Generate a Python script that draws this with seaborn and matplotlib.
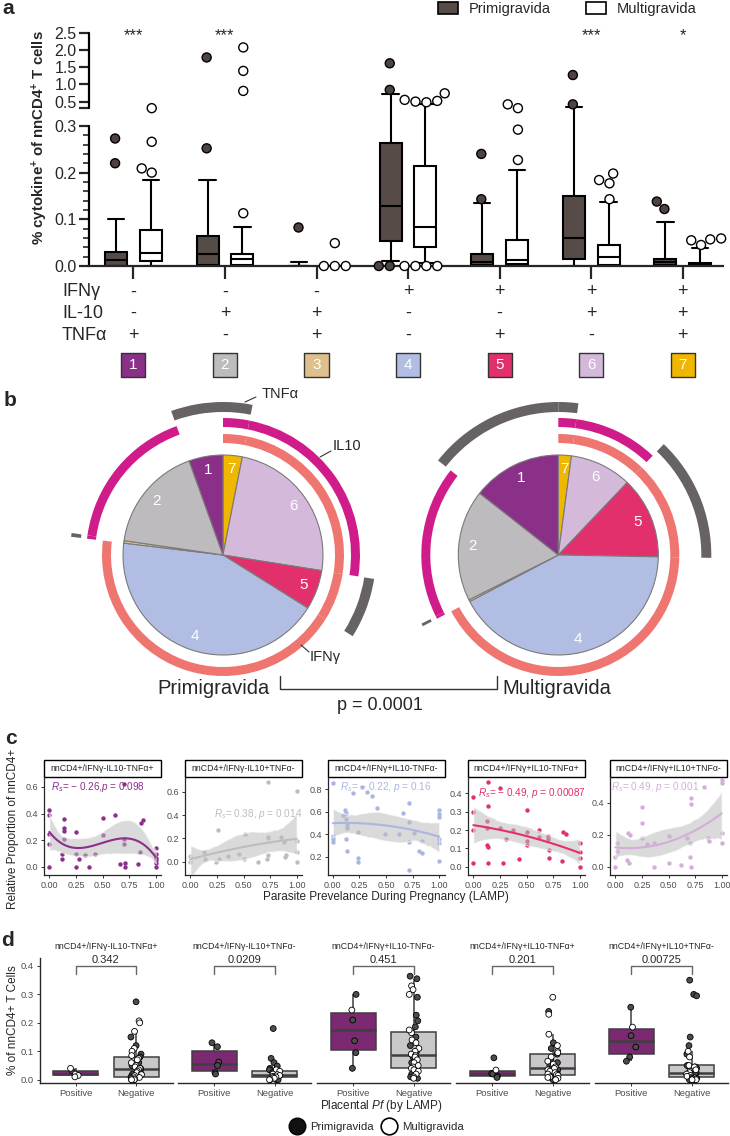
import numpy as np
import pandas as pd
import matplotlib
matplotlib.use("Agg")
import matplotlib.pyplot as plt
import matplotlib.transforms as mtransforms
from matplotlib.patches import Wedge, Patch, Rectangle
from matplotlib.lines import Line2D
from matplotlib.collections import PolyCollection
import seaborn as sns

W, H = 730, 1136

# ---------------- panel a: cytokine subsets (box summaries)
CATS = ["1", "2", "3", "4", "5", "6", "7"]
IFNG = ["-", "-", "-", "+", "+", "+", "+"]
IL10 = ["-", "+", "+", "-", "-", "+", "+"]
TNFA = ["+", "-", "+", "-", "+", "-", "+"]
CAT_COLORS = ["#8A3088", "#BDBBBD", "#DFC08D", "#B1BDE2", "#E2306C", "#D5B9DA", "#EFB700"]
SIG = ["***", "***", "", "", "", "***", "*"]

PRIMI_Q1 = [0.0, 0.002, 0.0, 0.054, 0.002, 0.014, 0.002]
PRIMI_MED = [0.013, 0.026, 0.0, 0.128, 0.009, 0.059, 0.009]
PRIMI_Q3 = [0.031, 0.064, 0.0, 0.264, 0.026, 0.150, 0.014]
PRIMI_LO = [0.0, 0.0, 0.0, 0.011, 0.0, 0.0, 0.0]
PRIMI_HI = [0.100, 0.184, 0.009, 0.714, 0.134, 0.33, 0.095]
PRIMI_OUT = [[0.22, 0.273], [0.252, 1.78], [0.084], [0.0, 0.0, 0.84, 1.61],
             [0.143, 0.24], [0.42, 1.27], [0.122, 0.138]]

MULTI_Q1 = [0.011, 0.002, 0.0, 0.041, 0.004, 0.002, 0.0]
MULTI_MED = [0.027, 0.014, 0.0, 0.084, 0.013, 0.020, 0.002]
MULTI_Q3 = [0.077, 0.026, 0.0, 0.214, 0.056, 0.045, 0.006]
MULTI_LO = [0.0, 0.0, 0.0, 0.006, 0.0, 0.0, 0.0]
MULTI_HI = [0.184, 0.084, 0.0, 0.425, 0.206, 0.136, 0.038]
MULTI_OUT = [[0.2, 0.209, 0.266, 0.31], [0.113, 0.81, 1.39, 2.07], [0.0, 0.0, 0.0, 0.049],
             [0.0, 0.0, 0.0, 0.0, 0.48, 0.5, 0.52, 0.55, 0.74], [0.227, 0.292, 0.31, 0.42],
             [0.143, 0.177, 0.184, 0.198], [0.045, 0.055, 0.057, 0.059]]

# ---------------- panel b: share of each subset (%), category order 1..7
PRIMI_FRAC = [5.5, 17.2, 0.4, 43.0, 6.4, 24.4, 3.1]
MULTI_FRAC = [14.4, 18.0, 0.3, 42.0, 13.2, 10.0, 2.1]

# ---------------- panel c: relative proportion vs parasite prevalence
C_TITLES = ["nnCD4+/IFNγ-IL10-TNFα+", "nnCD4+/IFNγ-IL10+TNFα-", "nnCD4+/IFNγ+IL10-TNFα-",
            "nnCD4+/IFNγ+IL10-TNFα+", "nnCD4+/IFNγ+IL10+TNFα-"]
C_COLORS = ["#8B2F8B", "#BDBDBD", "#A9B6E1", "#E2306B", "#D4ADD8"]
C_STATS = [r"$R_s$= − 0.26,$p$ = 0.098", r"$R_s$= 0.38, $p$ = 0.014", r"$R_s$= − 0.22, $p$ = 0.16",
           r"$R_s$= − 0.49, $p$ = 0.00087", r"$R_s$= 0.49, $p$ = 0.001"]

C1_X = [0.00, 0.00, 0.00, 0.00, 0.00, 0.14, 0.14, 0.14, 0.14, 0.12, 0.12, 0.25, 0.25, 0.25, 0.28,
        0.34, 0.37, 0.43, 0.50, 0.50, 0.62, 0.66, 0.70, 0.70, 0.70, 0.71, 0.71, 0.83, 0.85, 0.86,
        0.88, 1.00, 1.00, 1.00, 1.00, 1.00, 1.00]
C1_Y = [0.43, 0.39, 0.25, 0.17, 0.00, 0.36, 0.29, 0.27, 0.21, 0.10, 0.06, 0.26, 0.10, 0.00, 0.06,
        0.09, 0.00, 0.10, 0.37, 0.24, 0.39, 0.02, 0.62, 0.21, 0.17, 0.03, 0.00, 0.02, 0.11, 0.33,
        0.35, 0.14, 0.10, 0.07, 0.05, 0.03, 0.00]
C2_X = [0.00, 0.00, 0.13, 0.14, 0.24, 0.26, 0.27, 0.35, 0.46, 0.50, 0.51, 0.64, 0.72, 0.73, 0.73,
        0.73, 0.73, 0.85, 0.88, 0.89, 0.90, 1.00, 1.00, 1.00, 1.00]
C2_Y = [0.05, 0.00, 0.08, 0.02, 0.00, 0.27, 0.02, 0.05, 0.07, 0.02, 0.24, 0.00, 0.02, 0.68, 0.21,
        0.20, 0.06, 0.21, 0.17, 0.04, 0.06, 0.61, 0.18, 0.08, 0.00]
C3_X = [0.00, 0.00, 0.00, 0.00, 0.10, 0.11, 0.12, 0.12, 0.13, 0.13, 0.12, 0.13, 0.19, 0.24, 0.24,
        0.24, 0.27, 0.32, 0.37, 0.42, 0.49, 0.62, 0.66, 0.72, 0.72, 0.72, 0.72, 0.76, 0.81, 0.84,
        0.84, 1.00, 1.00, 1.00, 1.00, 1.00, 1.00]
C3_Y = [0.86, 0.38, 0.36, 0.33, 0.57, 0.62, 0.59, 0.54, 0.48, 0.46, 0.36, 0.25, 0.77, 0.42, 0.19,
        0.15, 0.82, 0.78, 0.74, 0.63, 0.40, 0.40, 0.59, 0.68, 0.51, 0.33, 0.08, 0.41, 0.25, 0.34,
        0.23, 0.62, 0.58, 0.55, 0.36, 0.32, 0.16]
C4_X = [0.00, 0.14, 0.25, 0.14, 0.50, 0.00, 0.13, 0.00, 0.13, 0.25, 0.37, 0.50, 0.62, 0.70, 0.70,
        0.84, 0.87, 1.00, 0.50, 0.62, 0.31, 0.14, 0.13, 0.50, 0.00, 0.14, 0.28, 0.43, 0.71, 0.71,
        0.83, 1.00, 1.00, 1.00]
C4_Y = [0.38, 0.46, 0.43, 0.33, 0.31, 0.30, 0.25, 0.20, 0.21, 0.21, 0.20, 0.19, 0.20, 0.17, 0.15,
        0.19, 0.18, 0.13, 0.14, 0.16, 0.15, 0.11, 0.12, 0.12, 0.02, 0.02, 0.02, 0.04, 0.09, 0.05,
        0.03, 0.08, 0.05, 0.00]
C5_X = [1.00, 1.00, 0.83, 0.71, 0.71, 0.25, 0.25, 0.14, 0.12, 0.02, 0.25, 0.36, 0.50, 0.67, 0.87,
        1.00, 1.00, 0.88, 0.70, 0.30, 0.00, 0.00, 0.11, 0.13, 0.36, 0.50, 0.62, 0.71, 0.70, 0.02]
C5_Y = [0.54, 0.52, 0.50, 0.43, 0.39, 0.37, 0.27, 0.20, 0.21, 0.15, 0.18, 0.15, 0.19, 0.18, 0.18,
        0.21, 0.15, 0.16, 0.15, 0.14, 0.06, 0.00, 0.04, 0.02, 0.00, 0.02, 0.01, 0.00, 0.06, 0.10]
C_X = [C1_X, C2_X, C3_X, C4_X, C5_X]
C_Y = [C1_Y, C2_Y, C3_Y, C4_Y, C5_Y]

# ---------------- panel d: % of nnCD4+ by placental Pf
PVALS = ["0.342", "0.0209", "0.451", "0.201", "0.00725"]
POS_PRIMI = [[0.03],
             [0.13, 0.116, 0.062, 0.05, 0.025, 0.02],
             [0.3, 0.21, 0.137, 0.095, 0.04],
             [0.077, 0.022, 0.02, 0.013, 0.008],
             [0.255, 0.155, 0.115, 0.08, 0.065]]
POS_MULTI = [[0.04, 0.02, 0.015, 0.01],
             [],
             [0.245],
             [0.034],
             [0.185]]
NEG_PRIMI = [[0.274, 0.15, 0.12, 0.09, 0.08, 0.06, 0.05, 0.04, 0.03, 0.02, 0.015, 0.01, 0.005, 0.0, 0.0],
             [0.18, 0.075, 0.06, 0.048, 0.04, 0.035, 0.03, 0.025, 0.02, 0.018, 0.015, 0.012, 0.01,
              0.008, 0.005, 0.0, 0.0],
             [0.364, 0.355, 0.29, 0.227, 0.207, 0.186, 0.15, 0.12, 0.1, 0.09, 0.08, 0.06, 0.05, 0.04,
              0.03, 0.02, 0.01, 0.005],
             [0.24, 0.13, 0.11, 0.09, 0.07, 0.06, 0.05, 0.04, 0.035, 0.03, 0.02, 0.015, 0.01, 0.005, 0.0],
             [0.35, 0.3, 0.295, 0.15, 0.12, 0.09, 0.045, 0.05, 0.04, 0.03, 0.025, 0.02, 0.015, 0.01,
              0.005, 0.0, 0.0]]
NEG_MULTI = [[0.207, 0.2, 0.17, 0.11, 0.1, 0.085, 0.075, 0.07, 0.06, 0.05, 0.045, 0.04, 0.035, 0.03,
              0.025, 0.02, 0.018, 0.015, 0.01, 0.008, 0.005, 0.003, 0.0, 0.0, 0.0],
             [0.035, 0.03, 0.02, 0.018, 0.015, 0.012, 0.01, 0.008, 0.005, 0.0, 0.0],
             [0.33, 0.317, 0.3, 0.165, 0.175, 0.14, 0.13, 0.11, 0.1, 0.09, 0.085, 0.08, 0.07, 0.06,
              0.05, 0.045, 0.04, 0.035, 0.03, 0.02, 0.01, 0.005],
             [0.29, 0.23, 0.16, 0.12, 0.1, 0.095, 0.08, 0.065, 0.055, 0.045, 0.04, 0.035, 0.03, 0.025,
              0.02, 0.018, 0.015, 0.01, 0.008, 0.005, 0.0],
             [0.1, 0.08, 0.04, 0.05, 0.045, 0.035, 0.03, 0.025, 0.02, 0.015, 0.012, 0.01, 0.008,
              0.005, 0.003, 0.0, 0.0, 0.0]]

PRIMI, MULTI = "Primigravida", "Multigravida"

sns.set_style("ticks")
plt.rcParams["font.family"] = ["Liberation Sans", "DejaVu Sans"]
plt.rcParams["mathtext.fontset"] = "custom"
plt.rcParams["mathtext.rm"] = "Liberation Sans"
plt.rcParams["mathtext.it"] = "Liberation Sans:italic"
plt.rcParams["mathtext.bf"] = "Liberation Sans:bold"

fig = plt.figure(figsize=(W / 100, H / 100), dpi=100)


def px_axes(left, top, width, height):
    return fig.add_axes([left / W, 1 - (top + height) / H, width / W, height / H])


def fx(px):
    return px / W


def fy(py):
    return 1 - py / H


# ======================= panel a =======================
def fwd(y):
    y = np.asarray(y, dtype=float)
    return np.where(y <= 0.3, y * 467.0, 157.5 + (y - 0.3) * 34.5)


def inv(t):
    t = np.asarray(t, dtype=float)
    return np.where(t <= 140.1, t / 467.0, np.where(t < 157.5, 0.3, 0.3 + (t - 157.5) / 34.5))


ax_a = px_axes(89, 266 - 233.4, 634, 233.4)
ax_a.set_yscale("function", functions=(fwd, inv))

out_rows = []
for i, c in enumerate(CATS):
    out_rows += [(c, PRIMI, v) for v in PRIMI_OUT[i]]
    out_rows += [(c, MULTI, v) for v in MULTI_OUT[i]]
out_df = pd.DataFrame(out_rows, columns=["subset", "group", "value"])
sns.swarmplot(data=out_df, x="subset", y="value", hue="group", order=CATS,
              hue_order=[PRIMI, MULTI], dodge=True,
              palette={PRIMI: "#4F4340", MULTI: "white"}, edgecolor="black",
              linewidth=1.0, size=6.5, legend=False, ax=ax_a)


def box_stats(q1, med, q3, lo, hi):
    return [dict(q1=a, med=b, q3=c, whislo=d, whishi=e, fliers=[])
            for a, b, c, d, e in zip(q1, med, q3, lo, hi)]


pos = np.arange(len(CATS))
line_kw = dict(color="black", linewidth=1.5)
for stats, off, fill in [(box_stats(PRIMI_Q1, PRIMI_MED, PRIMI_Q3, PRIMI_LO, PRIMI_HI), -0.19, "#574B48"),
                         (box_stats(MULTI_Q1, MULTI_MED, MULTI_Q3, MULTI_LO, MULTI_HI), 0.19, "white")]:
    ax_a.bxp(stats, positions=pos + off, widths=0.24, capwidths=0.18, patch_artist=True,
             showfliers=False, manage_ticks=False,
             boxprops=dict(facecolor=fill, edgecolor="black", linewidth=1.5),
             medianprops=line_kw, whiskerprops=line_kw, capprops=line_kw)
for coll in ax_a.collections:
    coll.set_clip_on(False)
    coll.set_zorder(3)

ax_a.set_xlim(-0.485, 6.44)
ax_a.set_ylim(0, 2.5)
ax_a.set_xticks(pos)
ax_a.set_xticklabels([""] * len(CATS))
ax_a.set_yticks([0, 0.1, 0.2, 0.3, 0.30001, 0.5, 1.0, 1.5, 2.0, 2.5])
ax_a.set_yticklabels(["0.0", "0.1", "0.2", "0.3", "", "0.5", "1.0", "1.5", "2.0", "2.5"])
ax_a.set_yticks([v for v in np.arange(0.02, 0.3, 0.02) if abs(v * 10 - round(v * 10)) > 1e-6],
                minor=True)
ax_a.tick_params(axis="y", which="major", length=7, width=1.6, labelsize=11.5, pad=2)
ax_a.tick_params(axis="y", which="minor", length=4, width=1.2)
ax_a.tick_params(axis="x", length=9, width=1.6)
ax_a.set_xlabel("")
ax_a.set_ylabel("")
for s in ["top", "right", "left"]:
    ax_a.spines[s].set_visible(False)
ax_a.spines["bottom"].set_linewidth(1.6)
ytr = ax_a.get_yaxis_transform()
ax_a.plot([0, 0], [0, 0.3], transform=ytr, color="black", lw=1.6, clip_on=False)
ax_a.plot([0, 0], [0.30001, 2.5], transform=ytr, color="black", lw=1.6, clip_on=False)

fig.text(fx(40), fy(138), r"% cytokine$^\mathbf{+}$ of nnCD4$^\mathbf{+}$ T cells", rotation=90,
         ha="center", va="center", fontsize=10.8, fontweight="bold")

blend = mtransforms.blended_transform_factory(ax_a.transData, fig.transFigure)
for i in range(len(CATS)):
    ax_a.text(i, fy(36), SIG[i], transform=blend, ha="center", va="center", fontsize=12)
    for sign_list, py in [(IFNG, 292), (IL10, 313), (TNFA, 335)]:
        ax_a.text(i, fy(py), sign_list[i], transform=blend, ha="center", va="center", fontsize=13)
ax_a.scatter(pos, [fy(365)] * len(CATS), transform=blend, marker="s", s=300, c=CAT_COLORS,
             edgecolors="#333333", linewidths=1, clip_on=False)
for i, c in enumerate(CATS):
    ax_a.text(i, fy(365), c, transform=blend, ha="center", va="center", fontsize=11, color="white")
for lab, py in [("IFNγ", 292), ("IL-10", 313), ("TNFα", 335)]:
    fig.text(fx(62), fy(py), lab, ha="left", va="center", fontsize=13)
ax_a.set_xlim(-0.485, 6.44)
ax_a.set_ylim(0, 2.5)

fig.legend(handles=[Patch(facecolor="#574B48", edgecolor="black", lw=1.2, label=PRIMI),
                    Patch(facecolor="white", edgecolor="black", lw=1.2, label=MULTI)],
           loc="upper left", bbox_to_anchor=(fx(438), fy(2)), ncol=2, frameon=False,
           fontsize=10.5, handlelength=1.4, handleheight=0.85, handletextpad=0.7,
           columnspacing=2.4, borderpad=0, borderaxespad=0)

# ======================= panel b =======================
ax_b = px_axes(0, 380, 730, 335)
order = list(range(len(CATS)))[::-1]          # clockwise from 12 o'clock: 7,6,...,1
ring_specs = [(IFNG, 1.21, 0.09, "#EE7570"), (IL10, 1.37, 0.09, "#D01C8B"), (TNFA, 1.53, 0.10, "#676363")]
for frac, cx in [(PRIMI_FRAC, 2.23), (MULTI_FRAC, 5.583)]:
    vals = [frac[k] for k in order]
    labels = [CATS[k] if frac[k] > 1 else "" for k in order]
    wedges, texts = ax_b.pie(vals, colors=[CAT_COLORS[k] for k in order], labels=labels,
                             labeldistance=0.86, startangle=90, counterclock=False, radius=1,
                             center=(cx, 1.60),
                             wedgeprops=dict(edgecolor="#7A7A7A", linewidth=0.8),
                             textprops=dict(color="white", fontsize=11))
    for t in texts:
        t.set_ha("center")
        t.set_va("center")
    bounds = np.concatenate([[0], np.cumsum(vals) / np.sum(vals) * 360])
    for flags, r_out, width, col in ring_specs:
        for j, k in enumerate(order):
            if flags[k] == "+":
                ax_b.add_patch(Wedge((cx, 1.60), r_out, 90 - bounds[j + 1], 90 - bounds[j],
                                     width=width, facecolor=col, edgecolor="none"))
ax_b.set_xlim(0, 7.3)
ax_b.set_ylim(0, 3.35)
ax_b.set_aspect("equal")
ax_b.axis("off")


def bxy(px, py):
    return px / 100, (715 - py) / 100


for (x0, y0), (x1, y1) in [((245, 402), (256, 397)), ((320, 457), (331, 451)), ((301, 645), (309, 652))]:
    a0, b0 = bxy(x0, y0)
    a1, b1 = bxy(x1, y1)
    ax_b.plot([a0, a1], [b0, b1], color="#333333", lw=0.8)
fig.text(fx(262), fy(394), "TNFα", ha="left", va="center", fontsize=10.5)
fig.text(fx(333), fy(446), "IL10", ha="left", va="center", fontsize=10.5)
fig.text(fx(310), fy(657), "IFNγ", ha="left", va="center", fontsize=10.5)
fig.text(fx(213), fy(689), PRIMI, ha="center", va="center", fontsize=14.5)
fig.text(fx(557), fy(689), MULTI, ha="center", va="center", fontsize=14.5)
bx = [bxy(280, 676), bxy(280, 689), bxy(497, 689), bxy(497, 676)]
ax_b.plot([p[0] for p in bx], [p[1] for p in bx], color="#333333", lw=1.0, clip_on=False)
fig.text(fx(380), fy(706), "p = 0.0001", ha="center", va="center", fontsize=13)

# ======================= panel c =======================
C_LEFT = [44, 185, 327.5, 468, 610]
C_YLIM = [(-0.06, 0.674), (-0.114, 0.727), (0.037, 0.91), (-0.045, 0.49), (-0.052, 0.56)]
C_YTICKS = [[0, 0.2, 0.4, 0.6], [0, 0.2, 0.4, 0.6], [0.2, 0.4, 0.6, 0.8],
            [0, 0.1, 0.2, 0.3, 0.4], [0, 0.2, 0.4]]
C_ORDER = [3, 2, 2, 2, 2]
C_LABXY = [(0.02, 0.60), (0.22, 0.41), (0.07, 0.82), (0.04, 0.40), (-0.04, 0.50)]
for i in range(5):
    ax = px_axes(C_LEFT[i], 777, 117, 98)
    sns.regplot(x=np.array(C_X[i]), y=np.array(C_Y[i]), ax=ax, order=C_ORDER[i], ci=95,
                n_boot=400, seed=7,
                scatter_kws=dict(s=10, color=C_COLORS[i], linewidths=0, alpha=1),
                line_kws=dict(color=C_COLORS[i], lw=1.5))
    for coll in ax.collections:
        if isinstance(coll, PolyCollection):
            coll.set_facecolor("#BDBDBD")
            coll.set_alpha(0.55)
    ax.set_xlim(-0.05, 1.05)
    ax.set_ylim(*C_YLIM[i])
    ax.set_xticks([0, 0.25, 0.5, 0.75, 1.0])
    ax.set_xticklabels(["0.00", "0.25", "0.50", "0.75", "1.00"])
    ax.set_yticks(C_YTICKS[i])
    ax.set_yticklabels([f"{v:.1f}" for v in C_YTICKS[i]])
    ax.tick_params(labelsize=6.5, labelcolor="#4D4D4D", length=2.5, width=0.7, color="#333333", pad=1.5)
    ax.set_xlabel("")
    ax.set_ylabel("")
    for s in ["top", "right"]:
        ax.spines[s].set_visible(False)
    for s in ["left", "bottom"]:
        ax.spines[s].set_linewidth(0.9)
    ax.add_patch(Rectangle((0, 1.0), 1, 0.173, transform=ax.transAxes, clip_on=False,
                           facecolor="white", edgecolor="black", lw=1.0))
    ax.text(0.5, 1.087, C_TITLES[i], transform=ax.transAxes, ha="center", va="center", fontsize=6.3)
    ax.text(C_LABXY[i][0], C_LABXY[i][1], C_STATS[i], color=C_COLORS[i], ha="left", va="center",
            fontsize=7.2)
fig.text(fx(13), fy(829), "Relative Proportion of nnCD4+", rotation=90, ha="center", va="center",
         fontsize=8.5)
fig.text(fx(386), fy(897), "Parasite Prevelance During Pregnancy (LAMP)", ha="center", va="center",
         fontsize=8.5)

# ======================= panel d =======================
np.random.seed(11)
D_LEFT = [39.5, 178, 317, 456, 595]
for i in range(5):
    ax = px_axes(D_LEFT[i], 958, 133, 125.3)
    rows = ([("Positive", PRIMI, v) for v in POS_PRIMI[i]] + [("Positive", MULTI, v) for v in POS_MULTI[i]] +
            [("Negative", PRIMI, v) for v in NEG_PRIMI[i]] + [("Negative", MULTI, v) for v in NEG_MULTI[i]])
    df = pd.DataFrame(rows, columns=["placental", "gravidity", "value"])
    sns.boxplot(data=df, x="placental", y="value", hue="placental", order=["Positive", "Negative"],
                palette={"Positive": "#891B7B", "Negative": "#C9C7C9"}, width=0.75, linecolor="#3F3F3F",
                linewidth=1.1, showfliers=False, showcaps=False, legend=False, ax=ax,
                medianprops=dict(color="#3F3F3F", linewidth=1.8))
    sns.stripplot(data=df, x="placental", y="value", hue="gravidity", order=["Positive", "Negative"],
                  hue_order=[PRIMI, MULTI], palette={PRIMI: "#4D4D4D", MULTI: "white"}, jitter=0.09,
                  size=4.2, edgecolor="black", linewidth=0.6, legend=False, ax=ax)
    ax.set_xlim(-0.6, 1.6)
    ax.set_ylim(-0.0126, 0.428)
    ax.plot([0, 0, 1, 1], [0.373, 0.40, 0.40, 0.373], color="#666666", lw=1.0, clip_on=False)
    ax.text(0.5, 0.402, PVALS[i], ha="center", va="bottom", fontsize=8)
    ax.text(0.5, 1.088, C_TITLES[i], transform=ax.transAxes, ha="center", va="center", fontsize=6.3)
    ax.set_xlabel("")
    ax.set_ylabel("")
    ax.tick_params(labelsize=6.8, labelcolor="#4D4D4D", length=2.5, width=0.7, color="#333333", pad=1.5)
    for s in ["top", "right"]:
        ax.spines[s].set_visible(False)
    ax.spines["bottom"].set_linewidth(1.0)
    if i == 0:
        ax.set_yticks([0, 0.1, 0.2, 0.3, 0.4])
        ax.set_yticklabels(["0.0", "0.1", "0.2", "0.3", "0.4"])
        ax.spines["left"].set_linewidth(1.0)
    else:
        ax.set_yticks([])
        ax.spines["left"].set_visible(False)
fig.text(fx(13), fy(1020), "% of nnCD4+ T Cells", rotation=90, ha="center", va="center", fontsize=8.5)
fig.text(fx(381), fy(1106), r"Placental $\it{Pf}$ (by LAMP)", ha="center", va="center", fontsize=8.5)
fig.legend(handles=[Line2D([], [], ls="none", marker="o", markersize=12, markerfacecolor="#111111",
                           markeredgecolor="black", label=PRIMI),
                    Line2D([], [], ls="none", marker="o", markersize=12, markerfacecolor="white",
                           markeredgecolor="black", markeredgewidth=1.2, label=MULTI)],
           loc="center", bbox_to_anchor=(fx(376), fy(1127)), ncol=2, frameon=False, fontsize=8.2,
           handletextpad=0.35, columnspacing=0.6, borderpad=0, handlelength=1.6)

# panel letters
for lab, px, py in [("a", 8, 8), ("b", 10, 400), ("c", 11, 739), ("d", 7, 940)]:
    fig.text(fx(px), fy(py), lab, ha="center", va="center", fontsize=15, fontweight="bold")

fig.savefig("out.png", dpi=100)
